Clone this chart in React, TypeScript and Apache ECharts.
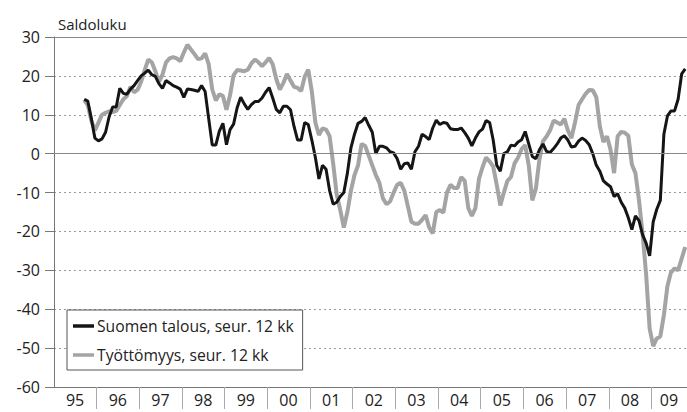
import React, { useEffect, useRef } from "react";
import * as echarts from "echarts";

const yearLabels = ["95", "96", "97", "98", "99", "00", "01", "02", "03", "04", "05", "06", "07", "08", "09"];
const monthsInLastYear = 10;
const firstDataMonth = 8;

// Suomen talous, seur. 12 kk (monthly from Sep 1995)
const suomenTalous = [
  14, 13.5, 9, 4, 3.3, 3.8, 5.5, 9.5, 12, 12, 16.8, 15.5, 15.3, 16.6, 17.5, 18.8,
  20, 20.7, 21.5, 20.3, 19.9, 18, 16.8, 18.8, 18.2, 17.5, 17.1, 16.6,
  14.5, 16.6, 16.5, 16.3, 16, 17.5, 16, 9, 2.2, 2.2, 5.8, 7.8,
  2.3, 6.2, 7.6, 11.8, 14.5, 12.8, 11.4, 12.6, 13.4, 13.4, 14.3, 15.8,
  17, 14.3, 11.4, 10.5, 12.2, 12.2, 11.3, 7, 3.5, 3.5, 8, 7.5,
  3.5, -1, -6.5, -3, -4, -9.5, -13, -12.5, -11, -10, -5, 1.5,
  5, 7.8, 8.3, 9.3, 7.3, 5.5, 0, 1.9, 1.9, 1.5, 0.5, 0.2,
  -1.3, -4, -2.6, -2.4, -4, 0.5, 1.9, 5, 4.4, 3.6, 6.6, 8.6,
  7.5, 8, 7.8, 6.4, 6.2, 6.2, 6.6, 5.4, 4, 2, 4, 5.6,
  6.3, 8.5, 8, 3.5, -3, -4.5, 0, 0.5, 2.2, 2, 3, 3.6,
  5.7, 2.5, -0.7, -1.3, 1, 2.5, 0.6, 0.3, 1.3, 2.5, 4, 4.6,
  3.5, 1.7, 1.9, 3.2, 4, 3.4, 2.3, 0, -3, -4.5, -7, -7.8,
  -8.5, -11, -10.3, -12.5, -14, -16.5, -19.5, -16, -17.2, -20.8, -23, -26.3,
  -17.5, -14.3, -12, 5, 9.7, 11, 11, 14, 20.5, 21.8,
];

// Työttömyys, seur. 12 kk (monthly from Sep 1995)
const tyottomyys = [
  13.8, 12.5, 8.5, 6, 8, 10, 10.5, 10.9, 10.7, 11, 12.5, 14, 14.8, 17.2, 15.8, 16.4,
  18.5, 21.5, 24.2, 23.5, 21.2, 18.5, 20.3, 23.5, 24.5, 24.8, 24.5, 23.8,
  26, 28, 26.8, 25.6, 24.3, 24.5, 25.8, 23, 16.5, 13.7, 15.3, 14.8,
  11.3, 15, 20.2, 21.5, 21.4, 21.2, 21.6, 23.2, 24.2, 23.5, 22.5, 23.5,
  24.6, 23, 19.2, 16.5, 18.2, 20.5, 18.8, 17.2, 16.9, 16.1, 19.8, 21.6,
  16, 8, 4.8, 6.5, 6.2, 4.5, -2.5, -10.5, -14.5, -19, -15, -9.5,
  -5.5, -3, 2.5, 2, -0.5, -3, -5.5, -7.5, -11.5, -13, -12.3, -10,
  -8, -7.5, -9.5, -13.5, -17.5, -18, -18, -17, -15.8, -19, -20.5, -15,
  -14.5, -15.2, -10, -8, -8.8, -8.8, -6, -7, -14, -16, -14, -6.5,
  -3.5, -1, -2, -3.3, -8, -13.3, -10, -7, -6, -2.5, -1, 1.2,
  2.2, -3, -12, -9, -1.5, 3.2, 4.4, 6, 8.5, 8, 7.5, 9,
  6, 4, 8, 12.5, 14, 15.4, 16.4, 16.3, 14.5, 7, 3, 4.5,
  1, -5, 4.5, 5.6, 5.4, 4.6, -2.8, -5, -12, -20.5, -31, -45,
  -49.5, -47.5, -47, -41.5, -34, -30.5, -29.5, -30, -27, -24,
];

const yMin = -60;
const yMax = 30;
const yStep = 10;

const FONT = "'Open Sans', 'Noto Sans', sans-serif";

export default function App() {
  const ref = useRef<HTMLDivElement>(null);

  useEffect(() => {
    document.body.style.margin = "0";
    if (!ref.current) return;
    const chart = echarts.init(ref.current, undefined, { renderer: "svg" });

    const categories: string[] = [];
    yearLabels.forEach((y, yi) => {
      const n = yi === yearLabels.length - 1 ? monthsInLastYear : 12;
      for (let m = 1; m <= n; m++) categories.push(y + "-" + (m < 10 ? "0" + m : m));
    });
    const pad = (arr: number[]) => {
      const out: (number | null)[] = [];
      for (let i = 0; i < firstDataMonth; i++) out.push(null);
      return out.concat(arr);
    };
    const lastIdx = categories.length;

    chart.setOption({
      animation: false,
      textStyle: { fontFamily: FONT },
      title: {
        text: "Saldoluku",
        left: 53,
        top: 11,
        textStyle: { fontSize: 15, fontWeight: "normal", color: "#222", fontFamily: FONT },
      },
      grid: { left: 54, right: 0, top: 37, bottom: 25, containLabel: false },
      legend: {
        data: [
          { name: "Suomen talous, seur. 12 kk", icon: "rect", itemStyle: { color: "#151515" } },
          { name: "Työttömyys, seur. 12 kk", icon: "rect", itemStyle: { color: "#a4a4a4" } },
        ],
        orient: "vertical",
        left: 67,
        top: 310,
        backgroundColor: "#fff",
        borderColor: "#555",
        borderWidth: 1,
        borderRadius: 0,
        padding: [8, 9, 7, 6],
        itemGap: 13,
        itemWidth: 21,
        itemHeight: 3.5,
        textStyle: { fontSize: 15.7, color: "#222", fontFamily: FONT, padding: [0, 0, 0, -2] },
      },
      xAxis: {
        type: "category",
        data: categories,
        boundaryGap: true,
        axisLine: { show: true, onZero: false, lineStyle: { color: "#777", width: 1 } },
        axisTick: {
          show: true,
          length: 22,
          interval: (index: number) => index > 0 && index % 12 === 0,
          lineStyle: { color: "#aaa", width: 1 },
        },
        axisLabel: {
          interval: (index: number) =>
            (index % 12 === 6 && index < lastIdx - monthsInLastYear) || index === lastIdx - monthsInLastYear + 5,
          formatter: (v: string) => v.split("-")[0],
          fontSize: 16,
          color: "#222",
          margin: 5,
          padding: [0, 4, 0, 0],
          fontFamily: FONT,
        },
        splitLine: { show: false },
      },
      yAxis: {
        type: "value",
        min: yMin,
        max: yMax,
        interval: yStep,
        axisLine: { show: true, lineStyle: { color: "#777", width: 1 } },
        axisTick: { show: true, length: 9, lineStyle: { color: "#777" } },
        axisLabel: { fontSize: 16, color: "#222", margin: 14, fontFamily: FONT },
        splitLine: { show: true, lineStyle: { color: "#9a9a9a", type: [2, 3], width: 1 } },
      },
      series: [
        {
          name: "frame",
          type: "line",
          data: [],
          z: 1,
          silent: true,
          markLine: {
            silent: true,
            symbol: ["none", "none"],
            label: { show: false },
            lineStyle: { color: "#888", type: "solid", width: 1 },
            data: [{ yAxis: 0 }, { yAxis: yMax }],
          },
        },
        {
          name: "Työttömyys, seur. 12 kk",
          type: "line",
          data: pad(tyottomyys),
          showSymbol: false,
          symbol: "none",
          z: 2,
          lineStyle: { color: "#a4a4a4", width: 4 },
          itemStyle: { color: "#a4a4a4" },
        },
        {
          name: "Suomen talous, seur. 12 kk",
          type: "line",
          data: pad(suomenTalous),
          showSymbol: false,
          symbol: "none",
          z: 3,
          lineStyle: { color: "#151515", width: 3 },
          itemStyle: { color: "#151515" },
        },
      ],
    });

    return () => chart.dispose();
  }, []);

  return <div ref={ref} style={{ width: 687, height: 412 }} />;
}
